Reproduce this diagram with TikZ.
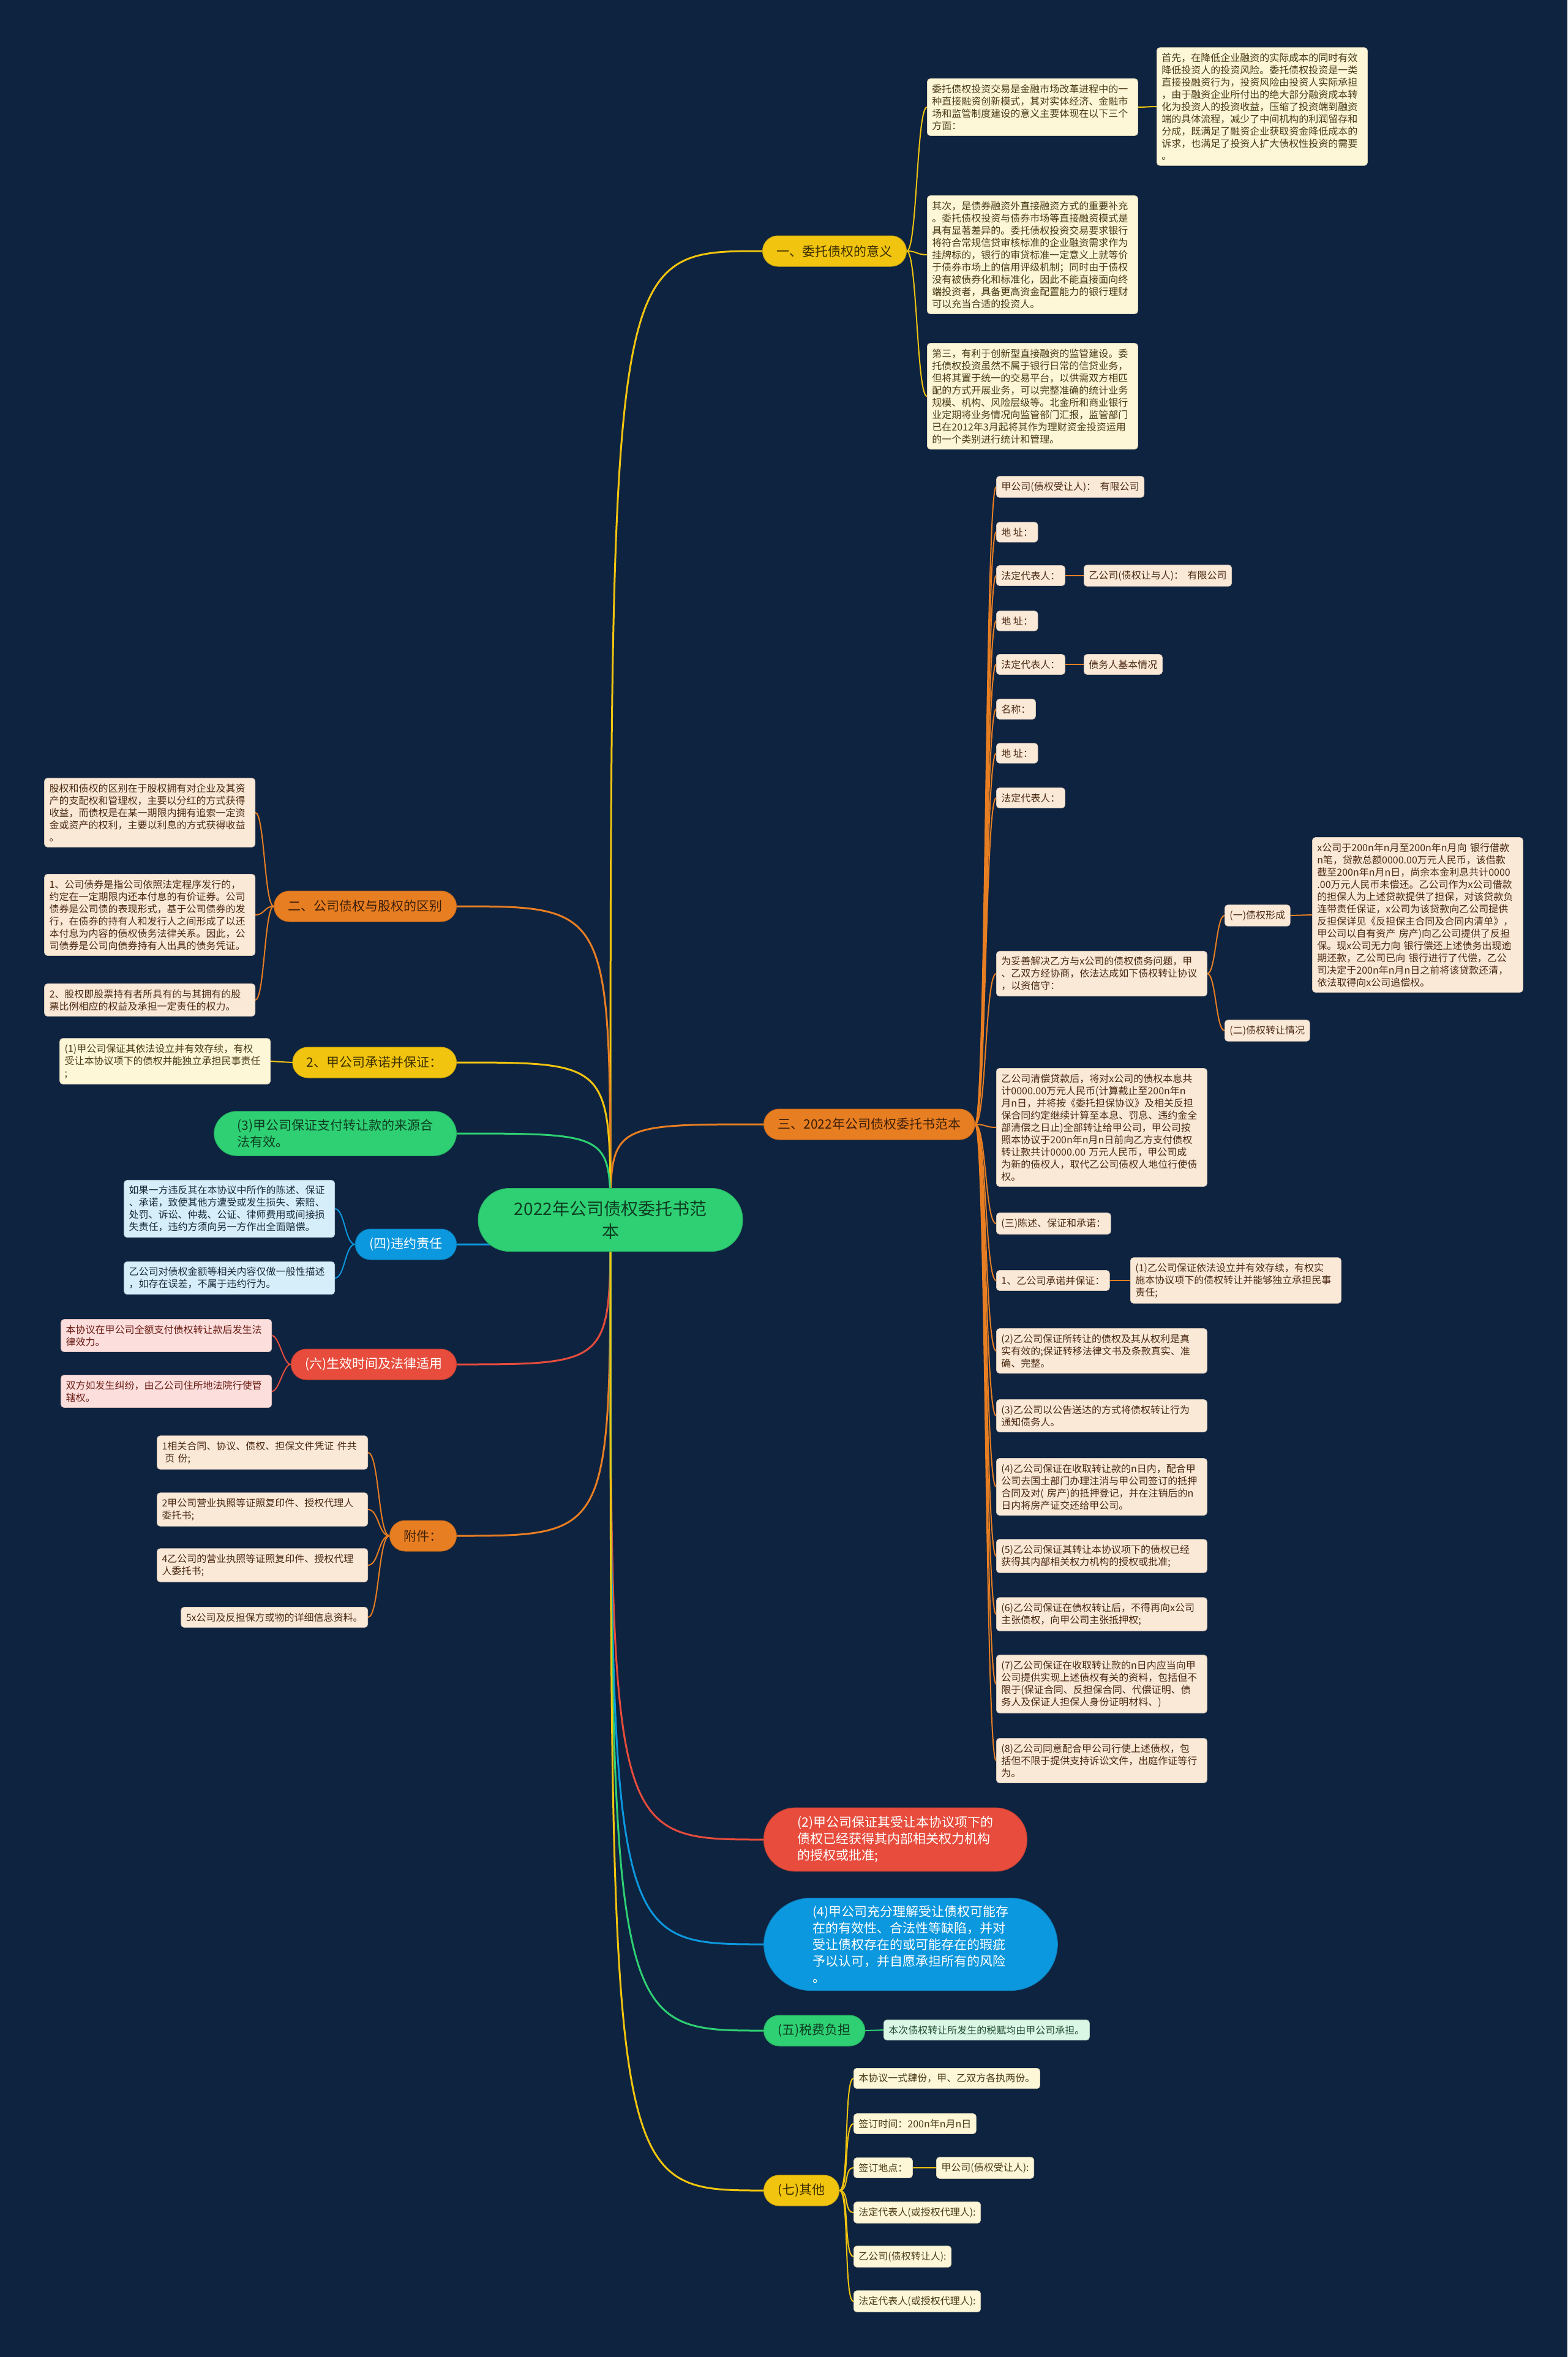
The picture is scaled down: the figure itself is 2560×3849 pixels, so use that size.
\documentclass[tikz,border=0pt]{standalone}
\usepackage{fontspec}
\setmainfont{Noto Sans CJK SC}
\definecolor{bg}{RGB}{14,35,64}
\definecolor{cY}{RGB}{241,196,15}
\definecolor{cO}{RGB}{232,126,34}
\definecolor{cG}{RGB}{46,208,115}
\definecolor{cB}{RGB}{12,152,222}
\definecolor{cR}{RGB}{231,76,60}
\definecolor{lY}{RGB}{253,246,215}
\definecolor{lO}{RGB}{251,233,216}
\definecolor{lB}{RGB}{214,238,250}
\definecolor{lR}{RGB}{252,222,220}
\definecolor{lG}{RGB}{218,246,228}
\definecolor{tY}{RGB}{74,59,22}
\definecolor{tO}{RGB}{74,42,18}
\definecolor{tB}{RGB}{26,42,58}
\definecolor{tR}{RGB}{107,29,20}
\definecolor{tG}{RGB}{29,74,47}
\definecolor{tYd}{RGB}{61,48,0}
\definecolor{tOd}{RGB}{59,30,8}
\definecolor{tGd}{RGB}{14,61,34}
\pgfdeclarelayer{back}\pgfdeclarelayer{links}
\pgfsetlayers{back,links,main}
\newcommand{\lf}{\fontsize{16}{20}\selectfont}
\newcommand{\brfont}{\fontsize{21}{27}\selectfont}
\newcommand{\ctrfont}{\fontsize{28}{37}\selectfont}
\tikzset{
  lfbox/.style={align=left, rounded corners=5pt, inner xsep=8pt, inner ysep=9pt, font=\lf, line width=0.8pt},
  lfY/.style={lfbox, fill=lY, draw=lY!85!black, text=tY},
  lfO/.style={lfbox, fill=lO, draw=lO!85!black, text=tO},
  lfB/.style={lfbox, fill=lB, draw=lB!85!black, text=tB},
  lfR/.style={lfbox, fill=lR, draw=lR!85!black, text=tR},
  lfG/.style={lfbox, fill=lG, draw=lG!85!black, text=tG},
  wide/.style={text width=328pt},
  brbox/.style={align=left, rounded corners=25pt, minimum height=50pt, inner xsep=23pt, inner ysep=4pt, font=\brfont, line width=1pt},
  brY/.style={brbox, fill=cY, draw=cY!85!black, text=tYd},
  brO/.style={brbox, fill=cO, draw=cO!85!black, text=tOd},
  brG/.style={brbox, fill=cG, draw=cG!85!black, text=tGd},
  brB/.style={brbox, fill=cB, draw=cB!85!black, text=white},
  brR/.style={brbox, fill=cR, draw=cR!85!black, text=white},
  mc/.style={draw=#1, line width=3pt, line cap=round},
  lc/.style={draw=#1, line width=2pt, line cap=round},
}
\begin{document}
\begin{tikzpicture}[x=1pt,y=-1pt]
\begin{pgfonlayer}{back}
\fill[bg] (0,0) rectangle (2560,3849);
\end{pgfonlayer}
\useasboundingbox (0,0) rectangle (2560,3849);

% center
\node[fill=cG, draw=cG!85!black, line width=1pt, rounded corners=51pt, minimum width=432pt, minimum height=103pt, align=center, font=\ctrfont, text=tGd] (ctr) at (997,1992) {2022年公司债权委托书范\\本};

% branch 一
\node[brY, anchor=west] (n1) at (1245,410) {一、委托债权的意义};
\node[lfY, wide, anchor=west] (b1a) at (1514,175) {委托债权投资交易是金融市场改革进程中的一\\种直接融资创新模式，其对实体经济、金融市\\场和监管制度建设的意义主要体现在以下三个\\方面：};
\node[lfY, wide, anchor=west] (b1b) at (1514,416) {其次，是债券融资外直接融资方式的重要补充\\。委托债权投资与债券市场等直接融资模式是\\具有显著差异的。委托债权投资交易要求银行\\将符合常规信贷审核标准的企业融资需求作为\\挂牌标的，银行的审贷标准一定意义上就等价\\于债券市场上的信用评级机制；同时由于债权\\没有被债券化和标准化，因此不能直接面向终\\端投资者，具备更高资金配置能力的银行理财\\可以充当合适的投资人。};
\node[lfY, wide, anchor=west] (b1c) at (1514,647) {第三，有利于创新型直接融资的监管建设。委\\托债权投资虽然不属于银行日常的信贷业务，\\但将其置于统一的交易平台，以供需双方相匹\\配的方式开展业务，可以完整准确的统计业务\\规模、机构、风险层级等。北金所和商业银行\\业定期将业务情况向监管部门汇报，监管部门\\已在2012年3月起将其作为理财资金投资运用\\的一个类别进行统计和管理。};
\node[lfY, wide, anchor=west] (b1d) at (1889,174) {首先，在降低企业融资的实际成本的同时有效\\降低投资人的投资风险。委托债权投资是一类\\直接投融资行为，投资风险由投资人实际承担\\，由于融资企业所付出的绝大部分融资成本转\\化为投资人的投资收益，压缩了投资端到融资\\端的具体流程，减少了中间机构的利润留存和\\分成，既满足了融资企业获取资金降低成本的\\诉求，也满足了投资人扩大债权性投资的需要\\。};

% branch 三
\node[brO, anchor=west] (n3) at (1247,1836) {三、2022年公司债权委托书范本};
\node[lfO, anchor=west] (c1) at (1627,795) {甲公司(债权受让人)：\hspace{0.4em}有限公司};
\node[lfO, anchor=west] (c2) at (1627,869) {地 址：};
\node[lfO, anchor=west] (c3) at (1627,940) {法定代表人：};
\node[lfO, anchor=west] (c3a) at (1770,940) {乙公司(债权让与人)：\hspace{0.4em}有限公司};
\node[lfO, anchor=west] (c4) at (1627,1014) {地 址：};
\node[lfO, anchor=west] (c5) at (1627,1085) {法定代表人：};
\node[lfO, anchor=west] (c5a) at (1770,1085) {债务人基本情况};
\node[lfO, anchor=west] (c6) at (1627,1158) {名称：};
\node[lfO, anchor=west] (c7) at (1627,1230) {地 址：};
\node[lfO, anchor=west] (c8) at (1627,1303) {法定代表人：};
\node[lfO, wide, anchor=west] (c9) at (1627,1590) {为妥善解决乙方与x公司的债权债务问题，甲\\、乙双方经协商，依法达成如下债权转让协议\\，以资信守：};
\node[lfO, anchor=west] (c9a) at (2000,1495) {(一)债权形成};
\node[lfO, wide, anchor=west] (c9a1) at (2143,1494) {x公司于200n年n月至200n年n月向 银行借款\\n笔，贷款总额0000.00万元人民币，该借款\\截至200n年n月n日，尚余本金利息共计0000\\.00万元人民币未偿还。乙公司作为x公司借款\\的担保人为上述贷款提供了担保，对该贷款负\\连带责任保证，x公司为该贷款向乙公司提供\\反担保详见《反担保主合同及合同内清单》，\\甲公司以自有资产 房产)向乙公司提供了反担\\保。现x公司无力向 银行偿还上述债务出现逾\\期还款，乙公司已向 银行进行了代偿，乙公\\司决定于200n年n月n日之前将该贷款还清，\\依法取得向x公司追偿权。};
\node[lfO, anchor=west] (c9b) at (2000,1683) {(二)债权转让情况};
\node[lfO, wide, anchor=west] (c10) at (1627,1841) {乙公司清偿贷款后，将对x公司的债权本息共\\计0000.00万元人民币(计算截止至200n年n\\月n日，并将按《委托担保协议》及相关反担\\保合同约定继续计算至本息、罚息、违约金全\\部清偿之日止)全部转让给甲公司，甲公司按\\照本协议于200n年n月n日前向乙方支付债权\\转让款共计0000.00 万元人民币，甲公司成\\为新的债权人，取代乙公司债权人地位行使债\\权。};
\node[lfO, anchor=west] (c11) at (1627,1998) {(三)陈述、保证和承诺：};
\node[lfO, anchor=west] (c12) at (1627,2091) {1、乙公司承诺并保证：};
\node[lfO, wide, anchor=west] (c12a) at (1846,2091) {(1)乙公司保证依法设立并有效存续，有权实\\施本协议项下的债权转让并能够独立承担民事\\责任;};
\node[lfO, wide, anchor=west] (c13) at (1627,2206) {(2)乙公司保证所转让的债权及其从权利是真\\实有效的;保证转移法律文书及条款真实、准\\确、完整。};
\node[lfO, wide, anchor=west] (c14) at (1627,2312) {(3)乙公司以公告送达的方式将债权转让行为\\通知债务人。};
\node[lfO, wide, anchor=west] (c15) at (1627,2428) {(4)乙公司保证在收取转让款的n日内，配合甲\\公司去国土部门办理注消与甲公司签订的抵押\\合同及对( 房产)的抵押登记，并在注销后的n\\日内将房产证交还给甲公司。};
\node[lfO, wide, anchor=west] (c16) at (1627,2541) {(5)乙公司保证其转让本协议项下的债权已经\\获得其内部相关权力机构的授权或批准;};
\node[lfO, wide, anchor=west] (c17) at (1627,2636) {(6)乙公司保证在债权转让后，不得再向x公司\\主张债权，向甲公司主张抵押权;};
\node[lfO, wide, anchor=west] (c18) at (1627,2750) {(7)乙公司保证在收取转让款的n日内应当向甲\\公司提供实现上述债权有关的资料，包括但不\\限于(保证合同、反担保合同、代偿证明、债\\务人及保证人担保人身份证明材料、)};
\node[lfO, wide, anchor=west] (c19) at (1627,2875) {(8)乙公司同意配合甲公司行使上述债权，包\\括但不限于提供支持诉讼文件，出庭作证等行\\为。};

% left branches
\node[brO, anchor=east] (L2) at (746,1480) {二、公司债权与股权的区别};
\node[lfO, wide, anchor=east] (l2a) at (417,1327) {股权和债权的区别在于股权拥有对企业及其资\\产的支配权和管理权，主要以分红的方式获得\\收益，而债权是在某一期限内拥有追索一定资\\金或资产的权利，主要以利息的方式获得收益\\。};
\node[lfO, wide, anchor=east] (l2b) at (417,1494) {1、公司债券是指公司依照法定程序发行的，\\约定在一定期限内还本付息的有价证券。公司\\债券是公司债的表现形式，基于公司债券的发\\行，在债券的持有人和发行人之间形成了以还\\本付息为内容的债权债务法律关系。因此，公\\司债券是公司向债券持有人出具的债务凭证。};
\node[lfO, wide, anchor=east] (l2c) at (417,1633) {2、股权即股票持有者所具有的与其拥有的股\\票比例相应的权益及承担一定责任的权力。};

\node[brY, anchor=east] (L3) at (746,1735) {2、甲公司承诺并保证：};
\node[lfY, wide, anchor=east] (l3a) at (442,1733) {(1)甲公司保证其依法设立并有效存续，有权\\受让本协议项下的债权并能独立承担民事责任\\;};

\node[brG, anchor=east, rounded corners=37pt, inner xsep=38pt, inner ysep=13pt] (L4) at (746,1851) {(3)甲公司保证支付转让款的来源合\\法有效。};

\node[brB, anchor=east] (L5) at (746,2032) {(四)违约责任};
\node[lfB, wide, anchor=east] (l5a) at (547,1974) {如果一方违反其在本协议中所作的陈述、保证\\、承诺，致使其他方遭受或发生损失、索赔、\\处罚、诉讼、仲裁、公证、律师费用或间接损\\失责任，违约方须向另一方作出全面赔偿。};
\node[lfB, wide, anchor=east] (l5b) at (547,2087) {乙公司对债权金额等相关内容仅做一般性描述\\，如存在误差，不属于违约行为。};

\node[brR, anchor=east] (L6) at (746,2228) {(六)生效时间及法律适用};
\node[lfR, wide, anchor=east] (l6a) at (444,2181) {本协议在甲公司全额支付债权转让款后发生法\\律效力。};
\node[lfR, wide, anchor=east] (l6b) at (444,2272) {双方如发生纠纷，由乙公司住所地法院行使管\\辖权。};

\node[brO, anchor=east] (L7) at (746,2508) {附件：};
\node[lfO, wide, anchor=east] (l7a) at (601,2372) {1相关合同、协议、债权、担保文件凭证 件共\\\hspace{0.3em}页 份;};
\node[lfO, wide, anchor=east] (l7b) at (601,2465) {2甲公司营业执照等证照复印件、授权代理人\\委托书;};
\node[lfO, wide, anchor=east] (l7c) at (601,2556) {4乙公司的营业执照等证照复印件、授权代理\\人委托书;};
\node[lfO, anchor=east] (l7d) at (601,2641) {5x公司及反担保方或物的详细信息资料。};

% bottom right branches
\node[brR, anchor=west, rounded corners=51pt, inner xsep=55pt, inner ysep=14pt] (R2) at (1247,3004) {(2)甲公司保证其受让本协议项下的\\债权已经获得其内部相关权力机构\\的授权或批准;};
\node[brB, anchor=west, rounded corners=77pt, inner xsep=80pt, inner ysep=12pt] (R4) at (1247,3175) {(4)甲公司充分理解受让债权可能存\\在的有效性、合法性等缺陷，并对\\受让债权存在的或可能存在的瑕疵\\予以认可，并自愿承担所有的风险\\。};
\node[brG, anchor=west] (R5) at (1247,3316) {(五)税费负担};
\node[lfG, anchor=west] (r5a) at (1443,3315) {本次债权转让所发生的税赋均由甲公司承担。};
\node[brY, anchor=west] (R7) at (1247,3577) {(七)其他};
\node[lfY, anchor=west] (r7a) at (1394,3394) {本协议一式肆份，甲、乙双方各执两份。};
\node[lfY, anchor=west] (r7b) at (1394,3468) {签订时间：200n年n月n日};
\node[lfY, anchor=west] (r7c) at (1394,3540) {签订地点：};
\node[lfY, anchor=west] (r7c1) at (1529,3540) {甲公司(债权受让人):};
\node[lfY, anchor=west] (r7d) at (1394,3613) {法定代表人(或授权代理人):};
\node[lfY, anchor=west] (r7e) at (1394,3685) {乙公司(债权转让人):};
\node[lfY, anchor=west] (r7f) at (1394,3758) {法定代表人(或授权代理人):};

% connectors
\begin{pgfonlayer}{links}
\draw[mc=cY] (ctr.center) .. controls (997,410) .. (n1.west);
\draw[mc=cO] (ctr.center) .. controls (997,1836) .. (n3.west);
\draw[mc=cO] (ctr.center) .. controls (997,1480) .. (L2.east);
\draw[mc=cY] (ctr.center) .. controls (997,1735) .. (L3.east);
\draw[mc=cG] (ctr.center) .. controls (997,1851) .. (L4.east);
\draw[mc=cB] (ctr.center) .. controls (997,2032) .. (L5.east);
\draw[mc=cR] (ctr.center) .. controls (997,2228) .. (L6.east);
\draw[mc=cO] (ctr.center) .. controls (997,2508) .. (L7.east);
\draw[mc=cR] (ctr.center) .. controls (997,3004) .. (R2.west);
\draw[mc=cB] (ctr.center) .. controls (997,3175) .. (R4.west);
\draw[mc=cG] (ctr.center) .. controls (997,3316) .. (R5.west);
\draw[mc=cY] (ctr.center) .. controls (997,3577) .. (R7.west);

\foreach \t in {b1a,b1b,b1c}
  \draw[lc=cY] (n1.east) .. controls +(17,0) and +(-17,0) .. (\t.west);
\draw[lc=cY] (b1a.east) .. controls +(14,0) and +(-14,0) .. (b1d.west);

\foreach \t in {c1,c2,c3,c4,c5,c6,c7,c8,c9,c10,c11,c12,c13,c14,c15,c16,c17,c18,c19}
  \draw[lc=cO] (n3.east) .. controls +(18,0) and +(-18,0) .. (\t.west);
\draw[lc=cO] (c3.east) -- (c3a.west);
\draw[lc=cO] (c5.east) -- (c5a.west);
\draw[lc=cO] (c9.east) .. controls +(14,0) and +(-14,0) .. (c9a.west);
\draw[lc=cO] (c9.east) .. controls +(14,0) and +(-14,0) .. (c9b.west);
\draw[lc=cO] (c9a.east) -- (c9a1.west);
\draw[lc=cO] (c12.east) -- (c12a.west);

\foreach \t in {l2a,l2b,l2c}
  \draw[lc=cO] (L2.west) .. controls +(-15,0) and +(15,0) .. (\t.east);
\draw[lc=cY] (L3.west) -- (l3a.east);
\foreach \t in {l5a,l5b}
  \draw[lc=cB] (L5.west) .. controls +(-16,0) and +(16,0) .. (\t.east);
\foreach \t in {l6a,l6b}
  \draw[lc=cR] (L6.west) .. controls +(-12,0) and +(12,0) .. (\t.east);
\foreach \t in {l7a,l7b,l7c,l7d}
  \draw[lc=cO] (L7.west) .. controls +(-18,0) and +(18,0) .. (\t.east);

\draw[lc=cG] (R5.east) -- (r5a.west);
\foreach \t in {r7a,r7b,r7c,r7d,r7e,r7f}
  \draw[lc=cY] (R7.east) .. controls +(16,0) and +(-16,0) .. (\t.west);
\draw[lc=cY] (r7c.east) -- (r7c1.west);
\end{pgfonlayer}
\end{tikzpicture}
\end{document}
